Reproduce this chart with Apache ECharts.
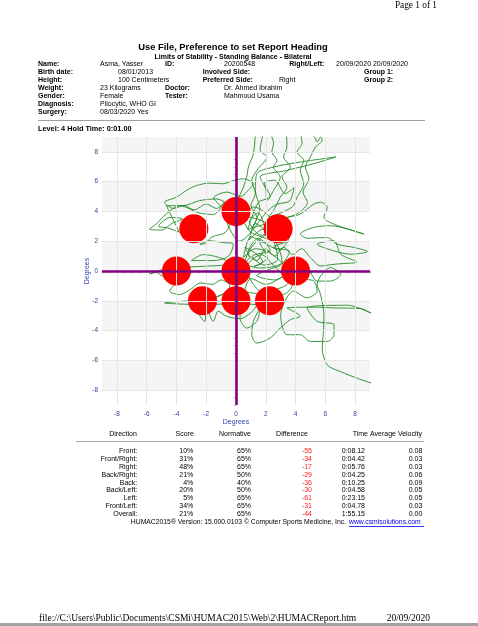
<!DOCTYPE html>
<html><head><meta charset="utf-8">
<script src="https://cdn.jsdelivr.net/npm/echarts@6/dist/echarts.min.js"></script>
<style>html,body{margin:0;padding:0;background:#fff}#c{width:478px;height:626px}</style>
</head><body><div id="c"></div>
<script>
// ---------- data ----------
const majorTicks = [-8, -6, -4, -2, 0, 2, 4, 6, 8];
const minorTicks = [-9, -8.5, -8, -7.5, -7, -6.5, -6, -5.5, -5, -4.5, -4, -3.5, -3, -2.5, -2, -1.5, -1, -0.5, 0,
  0.5, 1, 1.5, 2, 2.5, 3, 3.5, 4, 4.5, 5, 5.5, 6, 6.5, 7, 7.5, 8, 8.5, 9];
const bandsY = [[8, 9], [4, 6], [0, 2], [-4, -2], [-8, -6]];
const targetX = [0, 2.83, 4, 2.25, 0, -2.25, -4, -2.83, 0];
const targetY = [4, 2.83, 0, -2, -2, -2, 0, 2.83, 0];
const tracePath = [
  [0.3,0.4],[0.9,0.9],[0.6,1.6],[1.3,1.2],[1.8,0.6],[1.2,0.3],[2.1,0.9],[1.6,1.9],[2.4,2.0],[1.0,2.6],[0.5,3.4],
  [0.16,4.73],[0.5,5.63],[0.72,6.31],[0.83,6.98],[1.17,7.88],[1.4,9.3],
  [1.85,9.3],[1.62,8.11],[2.07,7.66],[1.4,6.76],[1.06,6.08],[1.3,5.2],[1.0,4.4],[1.4,3.6],[1.1,2.9],[1.6,4.2],[1.3,5.4],
  [1.4,6.53],[2.52,6.98],[4.32,7.32],[6.71,7.66],[5.23,7.21],[3.42,6.76],[1.62,6.31],[2.0,5.5],
  [2.07,4.73],[2.52,5.41],[2.97,6.31],[2.52,6.98],[2.75,7.43],[2.41,8.0],[2.52,8.56],[2.3,9.3],
  [3.31,9.3],[3.42,8.33],[3.2,7.66],[3.65,6.98],[3.09,6.31],[3.42,5.63],[2.97,4.95],[2.6,4.2],[2.2,3.6],
  [3.76,4.28],[4.10,4.95],[4.55,5.86],[4.32,6.76],[4.55,7.43],[4.10,8.0],[4.44,8.56],[4.32,9.3],
  [5.23,9.05],[5.45,8.67],[5.68,9.0],[5.79,8.78],[5.34,8.33],[5.0,7.66],[4.66,6.98],[4.9,6.2],[4.5,5.3],[4.8,4.6],[4.2,3.9],
  [3.42,3.6],[4.32,3.83],[5.23,4.5],[5.68,4.62],[6.13,4.28],[5.9,3.6],[6.58,3.15],[8.6,2.48],[7.48,2.82],[6.35,3.04],[5.23,2.93],[4.32,2.48],
  [4.77,2.2],[6.13,2.25],[6.8,1.8],[7.93,1.58],[8.83,1.31],[7.7,1.13],[6.58,1.35],
  [5.45,1.8],[6.58,2.03],[7.03,1.13],[8.1,0.6],[7.2,0.5],[6.58,0.45],[5.68,0.34],[5.0,0.9],[4.4,1.5],[3.8,1.1],[3.2,1.6],[2.6,1.0],[2.0,1.5],[1.4,0.7],[0.8,1.2],
  [1.5,2.2],[2.3,1.4],[1.1,1.0],[1.9,0.4],[2.8,0.8],[2.2,2.5],[1.2,1.8],[0.6,0.6],[1.6,0.2],[2.5,0.3],[3.1,0.6],[2.7,1.9],[1.8,2.8],[0.9,2.1],
  [1.3,3.2],[2.0,2.7],[1.5,3.9],[0.9,3.3],[1.7,2.4],[2.6,3.0],[2.1,3.8],[1.2,4.3],[0.6,3.8],[1.9,3.3],[2.9,2.2],[3.4,2.0],[2.5,1.6],[3.6,1.3],
  [3.0,0.4],[2.2,0.1],[1.4,-0.3],[2.6,-0.6],[3.4,-0.2],[2.0,-0.9],[1.0,-0.5],[0.6,-1.3],[1.5,-1.5],[2.8,-1.2],[3.5,-0.8],[2.4,0.5],[1.7,1.1],
  [0.7,0.2],[1.1,-0.8],[2.0,-1.6],[3.1,-1.6],[3.8,-0.9],[3.3,0.3],[2.3,1.2],[1.3,1.5],[0.5,0.9],[1.0,2.3],[1.9,1.9],[2.9,1.4],[3.6,2.4],[2.8,3.3],[1.8,3.1],[0.8,2.8],
  [1.5,4.6],[2.3,5.0],[1.9,5.9],[2.6,6.1],[3.3,5.2],[3.9,5.6],[3.6,4.7],[2.8,4.5],[2.2,4.1],
  [0.2,2.0],[-0.5,3.0],[-0.9,4.2],[-1.5,4.9],[-0.6,5.3],[0.3,5.0],[0.9,5.5],[1.17,5.86],[0.5,6.19],[-0.18,6.08],[-0.86,5.86],[-1.76,5.9],[-2.66,5.74],[-3.33,5.41],[-4.01,4.95],[-4.8,4.62],[-4.2,4.2],[-3.5,4.4],[-2.8,4.1],[-2.0,4.5],[-1.3,4.2],[-0.8,4.6],
  [-1.5,3.8],[-2.5,3.9],[-3.78,4.39],[-4.68,3.83],[-5.36,3.15],[-5.81,2.82],[-5.0,2.75],[-4.3,3.2],[-3.6,3.5],[-4.4,3.6],[-5.2,3.0],[-4.6,2.9],[-3.8,2.6],
  [-4.68,4.39],[-3.56,4.39],[-2.43,4.73],[-1.31,4.84],[-0.63,4.5],[-0.3,3.6],[-0.7,2.6],[-1.6,2.3],[-2.2,1.8],
  [-2.43,1.8],[-1.76,2.03],[-0.86,1.91],[-0.18,1.8],[-0.5,1.0],[-1.5,0.7],[-3.0,0.7],[-2.2,1.1],[-1.1,0.9],[-0.3,0.5],
  [-2.5,0.3],[-4.5,0.2],[-5.81,-0.2],[-5.36,-0.1],[-4.91,-0.34],[-4.3,-0.2],
  [-4.01,-0.68],[-4.46,-1.35],[-3.78,-1.58],[-3.0,-1.2],[-2.4,-0.8],[-1.6,-0.9],[-1.0,-0.6],[-0.4,-1.0],[-0.8,-1.5],
  [-1.5,-1.8],[-3.2,-2.0],[-4.8,-2.14],[-2.43,-2.25],[-0.18,-2.21],[1.4,-2.3],
  [1.0,-2.8],[0.3,-3.2],[-0.63,-3.04],[-1.19,-2.7],[-1.53,-3.38],[-1.98,-2.48],[-2.1,-3.4],[-2.6,-2.6],[-1.0,-1.6],[0.4,-1.2],
  [0.27,-3.15],[0.72,-3.83],[1.40,-3.38],[1.62,-2.48],[1.17,-3.38],[1.06,-4.28],[1.4,-4.84],[2.30,-4.5],[2.97,-3.83],[3.65,-3.27],[4.32,-3.04],
  [3.42,-2.48],[5.45,-2.43],[6.58,-2.48],[8.38,-2.52],[8.83,-2.7],[9.3,-2.95],[7.5,-2.3],[4.77,-2.48],
  [5.45,-3.38],[6.58,-3.6],[6.58,-4.28],[6.13,-4.73],[5.0,-4.73],[4.32,-4.28],[3.42,-4.28],[3.0,-3.0],
  [3.87,-1.35],[4.77,-1.8],[5.45,-1.35],[5.23,-0.68],[4.32,-0.45],
  [4.77,0.23],[5.45,-0.68],[6.35,-0.68],[7.03,-0.23],[6.35,0.23],[5.45,-0.9],
  [5.68,-1.58],[5.9,-2.93],[5.86,-4.28],[5.79,-5.18],[6.13,-6.31],[7.03,-6.76],[8.15,-7.21],[9.3,-7.6]
];
const infoLabels = ['Name:', 'Birth date:', 'Height:', 'Weight:', 'Gender:', 'Diagnosis:', 'Surgery:'];
const infoValues = ['Asma, Yasser', '08/01/2013', '100 Centimeters', '23 Kilograms', 'Female', 'Pilocytic, WHO GI', '08/03/2020 Yes'];
const midLabels = ['ID:', 'Involved Side:', 'Preferred Side:', 'Doctor:', 'Tester:', '', ''];
const midValues = ['20200548', '', 'Right', 'Dr. Ahmed Ibrahim', 'Mahmoud Usama', '', ''];
const rightLabels = ['Right/Left:', 'Group 1:', 'Group 2:', '', '', '', ''];
const rightValues = ['20/09/2020 20/09/2020', '', '', '', '', '', ''];
const tableHeaders = ['Direction', 'Score', 'Normative', 'Difference', 'Time', 'Average Velocity'];
const directions = ['Front:', 'Front/Right:', 'Right:', 'Back/Right:', 'Back:', 'Back/Left:', 'Left:', 'Front/Left:', 'Overall:'];
const scores = ['10%', '31%', '48%', '21%', '4%', '20%', '5%', '34%', '21%'];
const normatives = ['65%', '65%', '65%', '50%', '40%', '50%', '65%', '65%', '65%'];
const differences = ['-55', '-34', '-17', '-29', '-36', '-30', '-61', '-31', '-44'];
const times = ['0:08.12', '0:04.42', '0:05.76', '0:04.25', '0:10.25', '0:04.58', '0:23.15', '0:04.78', '1:55.15'];
const velocities = ['0.08', '0.03', '0.03', '0.06', '0.09', '0.05', '0.05', '0.03', '0.00'];

// ---------- layout / styles ----------
const SANS = '"Liberation Sans", Arial, sans-serif';
const SERIF = '"Liberation Serif", "Times New Roman", serif';
function txt(x, y, text, o) {
  o = o || {};
  return { type: 'text', x: x, y: y, silent: true, z: 10,
    style: { text: text, font: (o.bold ? 'bold ' : '') + (o.size || 7) + 'px ' + (o.family || SANS),
      fill: o.color || '#000', textAlign: o.align || 'left', textVerticalAlign: 'middle' } };
}
function hline(x1, x2, y, color, w) {
  return { type: 'line', silent: true, shape: { x1: x1, y1: y, x2: x2, y2: y }, style: { stroke: color, lineWidth: w || 1 } };
}
const g = [];
g.push(txt(437, 6, 'Page 1 of 1', { family: SERIF, size: 9.3, align: 'right' }));
g.push(txt(233, 47, 'Use File, Preference to set Report Heading', { bold: true, size: 9.4, align: 'center' }));
g.push(txt(233, 56.7, 'Limits of Stability - Standing Balance - Bilateral', { bold: true, size: 7, align: 'center' }));
const valX = [100, 118, 118, 100, 100, 100, 100];
const midLX = [165, 202.7, 202.7, 165, 165, 165, 165];
const midVX = [224, 224, 279, 224, 224, 224, 224];
const rightLX = [289.3, 364, 364, 0, 0, 0, 0];
for (let i = 0; i < infoLabels.length; i++) {
  const y = 64.5 + 8 * i;
  g.push(txt(38, y, infoLabels[i], { bold: true }));
  g.push(txt(valX[i], y, infoValues[i]));
  if (midLabels[i]) g.push(txt(midLX[i], y, midLabels[i], { bold: true }));
  if (midValues[i]) g.push(txt(midVX[i], y, midValues[i]));
  if (rightLabels[i]) g.push(txt(rightLX[i], y, rightLabels[i], { bold: true }));
  if (rightValues[i]) g.push(txt(336, y, rightValues[i]));
}
g.push(hline(38, 425, 120.5, '#a0a0a0', 1));
g.push(txt(38, 129, 'Level: 4 Hold Time: 0:01.00', { bold: true, size: 7.3 }));
// results table
const headX = [123, 184.7, 235, 292, 368, 370];
const headAlign = ['center', 'center', 'center', 'center', 'right', 'left'];
tableHeaders.forEach((h, i) => g.push(txt(headX[i], 434.3, h, { align: headAlign[i] })));
g.push(hline(76, 424, 441.5, '#a8a8a8', 1));
const cols = [directions, scores, normatives, differences, times, velocities];
const colX = [137.3, 193.3, 251, 312, 365, 422.3];
for (let r = 0; r < directions.length; r++) {
  const y = 451 + 7.9 * r;
  cols.forEach((c, k) => g.push(txt(colX[k], y, c[r], { align: 'right', color: k === 3 ? '#ff1a1a' : '#000' })));
}
g.push(txt(346, 522.5, 'HUMAC2015\u00ae Version: 15.000.0103 \u00a9 Computer Sports Medicine, Inc.', { align: 'right', size: 6.8 }));
g.push(txt(349, 522.5, 'www.csmisolutions.com', { size: 6.8, color: '#0000ee' }));
g.push(hline(349, 424, 526.5, '#0000ee', 0.8));
g.push(txt(39, 618.5, 'file://C:\\Users\\Public\\Documents\\CSMi\\HUMAC2015\\Web\\2\\HUMACReport.htm', { family: SERIF, size: 9.5 }));
g.push(txt(430, 618.5, '20/09/2020', { family: SERIF, size: 9.5, align: 'right' }));
g.push({ type: 'rect', silent: true, shape: { x: 0, y: 623, width: 478, height: 3 }, style: { fill: '#a3a3a3' } });

const labelColor = '#3a3a9c';
const majorTickColor = '#2e9a9e';
const minorTickColor = '#bdbdbd';
const nameColor = '#3446b4';

const option = {
  animation: false,
  backgroundColor: '#fff',
  grid: { left: 102, top: 137, width: 268, height: 268 },
  xAxis: [
    { type: 'value', min: -9, max: 9, position: 'bottom', gridIndex: 0,
      axisLine: { show: false },
      axisTick: { show: true, customValues: majorTicks, length: 4, lineStyle: { color: majorTickColor } },
      axisLabel: { customValues: majorTicks, color: labelColor, fontSize: 6.5, margin: 6, fontFamily: SANS },
      splitLine: { show: false },
      name: 'Degrees', nameLocation: 'middle', nameGap: 14, nameMoveOverlap: false,
      nameTextStyle: { color: nameColor, fontSize: 7, fontFamily: SANS } },
    { type: 'value', min: -9, max: 9, position: 'bottom', gridIndex: 0,
      axisLine: { show: false },
      axisTick: { show: true, customValues: minorTicks, length: 2.5, lineStyle: { color: minorTickColor } },
      axisLabel: { show: false }, splitLine: { show: false } }
  ],
  yAxis: [
    { type: 'value', min: -9, max: 9, position: 'left', gridIndex: 0,
      axisLine: { show: false },
      axisTick: { show: true, customValues: majorTicks, length: 3, lineStyle: { color: majorTickColor } },
      axisLabel: { customValues: majorTicks, color: labelColor, fontSize: 6.5, margin: 4, fontFamily: SANS },
      splitLine: { show: false },
      name: 'Degrees', nameLocation: 'middle', nameGap: 11, nameMoveOverlap: false,
      nameTextStyle: { color: nameColor, fontSize: 7, fontFamily: SANS } },
    { type: 'value', min: -9, max: 9, position: 'left', gridIndex: 0,
      axisLine: { show: false },
      axisTick: { show: true, customValues: minorTicks, length: 2.5, lineStyle: { color: minorTickColor } },
      axisLabel: { show: false }, splitLine: { show: false } }
  ],
  graphic: { elements: g },
  series: [
    { type: 'line', data: [], z: 1, silent: true,
      markArea: { silent: true, itemStyle: { color: '#f5f5f5' },
        data: bandsY.map(b => [{ yAxis: b[0] }, { yAxis: b[1] }]) },
      markLine: { silent: true, symbol: 'none', label: { show: false },
        lineStyle: { color: '#e6e6e6', width: 1, type: 'solid' },
        data: majorTicks.map(v => ({ xAxis: v })).concat(majorTicks.map(v => ({ yAxis: v }))) } },
    { type: 'line', data: tracePath, z: 2, silent: true, showSymbol: false, symbol: 'none', smooth: 0.3,
      clip: true, lineStyle: { color: '#238a26', width: 0.9 } },
    { type: 'line', data: [], z: 3, silent: true,
      markLine: { silent: true, symbol: 'none', label: { show: false },
        lineStyle: { color: '#800080', width: 2.6, type: 'solid' },
        data: [{ xAxis: 0 }, { yAxis: 0 }] } },
    { type: 'scatter', z: 4, silent: true, symbolSize: 29,
      data: targetX.map((x, i) => [x, targetY[i]]),
      itemStyle: { color: '#ff0000', opacity: 1 } }
  ]
};
const chart = echarts.init(document.getElementById('c'), null, { renderer: 'canvas' });
chart.setOption(option);
</script>
</body></html>
